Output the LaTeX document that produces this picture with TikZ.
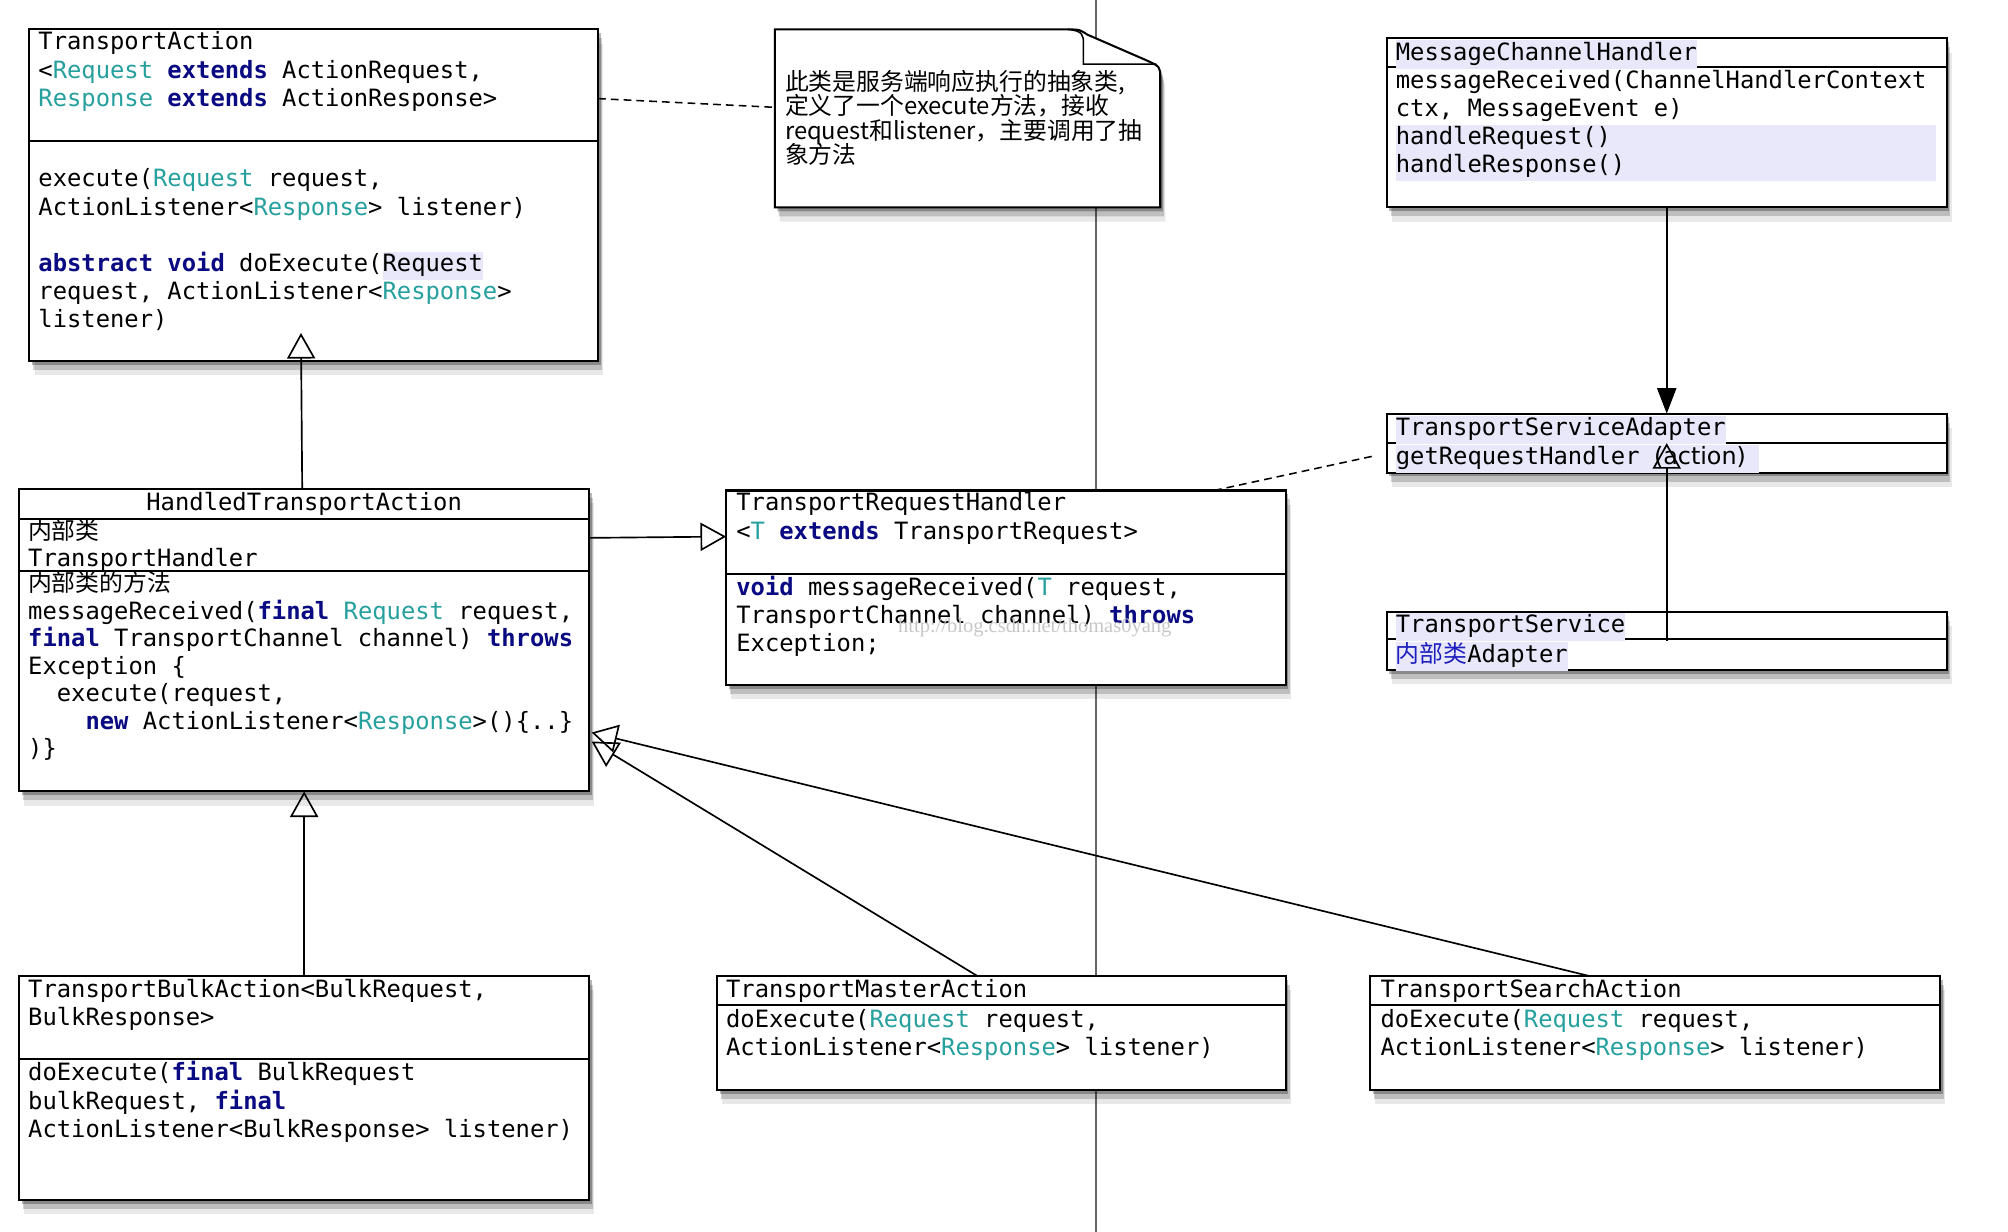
\documentclass[tikz,border=0pt]{standalone}
\usepackage{fontspec}
\usetikzlibrary{arrows.meta,shadows,fit,calc}
\newfontfamily\codefont{DejaVu Sans Mono}
\newfontfamily\cjkfont{Noto Sans CJK SC}
\newfontfamily\sansfont{DejaVu Sans}
\newfontfamily\wmfont{Liberation Serif}
\definecolor{tycol}{RGB}{38,160,158}
\definecolor{kwcol}{RGB}{10,10,130}
\definecolor{hlcol}{RGB}{232,232,250}
\definecolor{cjkblue}{RGB}{30,30,190}
\newcommand{\tyc}[1]{\textcolor{tycol}{#1}}
\newcommand{\kwd}[1]{\textcolor{kwcol}{\bfseries #1}}
\newcommand{\hlt}[1]{{\setlength{\fboxsep}{0pt}\colorbox{hlcol}{\strut #1}}}
\newcommand{\umlbox}[5]{%
  \coordinate (#1-nw) at (#2,#3);
  \coordinate (#1-se) at (#4,#5);
  \node[umlcls, fit=(#1-nw)(#1-se)] (#1) {};}
\begin{document}
\begin{tikzpicture}[x=1pt,y=-1pt,
  shd/.style={drop shadow={shadow xshift=2pt,shadow yshift=-3pt,opacity=.28,fill=black},
              drop shadow={shadow xshift=3pt,shadow yshift=-7pt,opacity=.18,fill=black},
              drop shadow={shadow xshift=4pt,shadow yshift=-11pt,opacity=.09,fill=black}},
  umlcls/.style={draw, line width=1.6pt, fill=white, inner sep=0pt, outer sep=0pt, shd},
  notebox/.style={draw, line width=1.6pt, fill=white, shd},
  sepline/.style={line width=1.6pt},
  txtcode/.style={anchor=north west, inner sep=0pt, outer sep=0pt, align=left,
                  font={\codefont\fontsize{18.6pt}{22pt}\selectfont\lineskiplimit=-100pt\lineskip=0pt}},
  txtcodeb/.style={txtcode, font={\codefont\fontsize{18.6pt}{21.5pt}\selectfont\lineskiplimit=-100pt\lineskip=0pt}},
  txtnote/.style={anchor=north west, inner sep=0pt, outer sep=0pt, align=left,
                  font={\cjkfont\fontsize{18.6pt}{19pt}\selectfont\lineskiplimit=-100pt\lineskip=0pt}},
  inharrow/.style={line width=1.3pt, -{Triangle[open,width=22pt,length=20pt]}},
  navarrow/.style={line width=1.3pt, -{Triangle[width=15pt,length=20pt]}},
  deparrow/.style={line width=1.2pt, dash pattern=on 6pt off 4pt},
  vgray/.style={line width=1.3pt, draw=black!60}
]
\useasboundingbox (0,0) rectangle (1568,962);

% background vertical line
\coordinate (vtop) at (856,0);
\coordinate (vbot) at (856,962);
\draw[vgray] (vtop) -- (vbot);

% ---------- TransportAction ----------
\umlbox{ta}{23}{23}{467}{282}
\draw[sepline] (ta.west |- 0,110) -- (ta.east |- 0,110);
\node[txtcode] (ta-head) at (30,23.6) {\strut TransportAction\\
\strut <\tyc{Request} \kwd{extends} ActionRequest,\\
\strut \tyc{Response} \kwd{extends} ActionResponse>};
\node[txtcode] (ta-ops) at (30,130.6) {\strut execute(\tyc{Request} request,\\
\strut ActionListener<\tyc{Response}> listener)\\
\strut\\
\strut \kwd{abstract} \kwd{void} doExecute(\hlt{Request}\\
\strut request, ActionListener<\tyc{Response}>\\
\strut listener)};

% ---------- Note ----------
\coordinate (note-nw) at (605,23);
\coordinate (note-se) at (906,162);
\node[fit=(note-nw)(note-se), inner sep=0pt] (note) {};
\draw[notebox] (605,23) -- (833,23) .. controls (843,23) .. (849,27) -- (895,47)
  .. controls (906,52) .. (906,61) -- (906,162) -- (605,162) -- cycle;
\draw[line width=1.2pt] (834,23) .. controls (846,24) and (846,28) .. (846,34) -- (846,50) -- (903,50);
\node[txtnote] (note-txt) at (613,55) {\strut 此类是服务端响应执行的抽象类,\\
\strut 定义了一个execute方法，接收\\
\strut request和listener，主要调用了抽\\
\strut 象方法};

% ---------- MessageChannelHandler ----------
\umlbox{mch}{1083}{30}{1520}{162}
\draw[sepline] (mch.west |- 0,52) -- (mch.east |- 0,52);
\node[txtcode] (mch-head) at (1090,31.6) {\hlt{MessageChannelHandler}};
\node[txtcode] (mch-ops) at (1090,53.6) {\strut messageReceived(ChannelHandlerContext\\
\strut ctx, MessageEvent e)\\
\hlt{\makebox[422pt][l]{handleRequest()}}\\
\hlt{\makebox[422pt][l]{handleResponse()}}};

% ---------- TransportServiceAdapter ----------
\umlbox{tsa}{1083}{323}{1520}{369}
\draw[sepline] (tsa.west |- 0,346) -- (tsa.east |- 0,346);
\node[txtcode] (tsa-head) at (1090,324.6) {\hlt{TransportServiceAdapter}};
\node[txtcode] (tsa-ops) at (1090,347.6) {\hlt{getRequestHandler {\sansfont(action)}\hspace{10pt}}};

% ---------- TransportService ----------
\umlbox{ts}{1083}{478}{1520}{523}
\draw[sepline] (ts.west |- 0,499) -- (ts.east |- 0,499);
\node[txtcode] (ts-head) at (1090,478.6) {\hlt{TransportService}};
\node[txtcode] (ts-ops) at (1090,501.6) {\hlt{{\cjkfont\color{cjkblue}内部类}Adapter}};

% ---------- HandledTransportAction ----------
\umlbox{hta}{15}{382}{460}{618}
\draw[sepline] (hta.west |- 0,405) -- (hta.east |- 0,405);
\draw[sepline] (hta.west |- 0,446) -- (hta.east |- 0,446);
\node[txtcode, anchor=north, align=center] (hta-head) at (237.5,383.6) {\strut HandledTransportAction};
\node[txtcodeb] (hta-inner) at (22,405.2) {\strut{\cjkfont 内部类}\\
\strut TransportHandler};
\node[txtcodeb] (hta-ops) at (22,446.2) {\strut{\cjkfont 内部类的方法}\\
\strut messageReceived(\kwd{final} \tyc{Request} request,\\
\strut \kwd{final} TransportChannel channel) \kwd{throws}\\
\strut Exception \{\\
\strut\hspace*{22.4pt}execute(request,\\
\strut\hspace*{44.8pt}\kwd{new} ActionListener<\tyc{Response}>()\{..\}\\
\strut )\}};

% ---------- TransportRequestHandler ----------
\umlbox{trh}{567}{383}{1004}{535}
\draw[sepline] (trh.west |- 0,448) -- (trh.east |- 0,448);
\node[txtcode] (trh-head) at (575,383.6) {\strut TransportRequestHandler\\
\strut <\tyc{T} \kwd{extends} TransportRequest>};
\node[txtcode] (trh-ops) at (575,449.6) {\strut \kwd{void} messageReceived(\tyc{T} request,\\
\strut TransportChannel channel) \kwd{throws}\\
\strut Exception;};
\node[inner sep=0pt, text=black!22, font={\wmfont\fontsize{16pt}{16pt}\selectfont}] (wm) at (808,490) {http://blog.csdn.net/thomas0yang};

% ---------- TransportBulkAction ----------
\umlbox{tba}{15}{762}{460}{937}
\draw[sepline] (tba.west |- 0,827) -- (tba.east |- 0,827);
\node[txtcode] (tba-head) at (22,763.6) {\strut TransportBulkAction<BulkRequest,\\
\strut BulkResponse>};
\node[txtcode] (tba-ops) at (22,828.6) {\strut doExecute(\kwd{final} BulkRequest\\
\strut bulkRequest, \kwd{final}\\
\strut ActionListener<BulkResponse> listener)};

% ---------- TransportMasterAction ----------
\umlbox{tma}{560}{762}{1004}{851}
\draw[sepline] (tma.west |- 0,785) -- (tma.east |- 0,785);
\node[txtcode] (tma-head) at (567,763.6) {\strut TransportMasterAction};
\node[txtcode] (tma-ops) at (567,786.6) {\strut doExecute(\tyc{Request} request,\\
\strut ActionListener<\tyc{Response}> listener)};

% ---------- TransportSearchAction ----------
\umlbox{tsea}{1070}{762}{1515}{851}
\draw[sepline] (tsea.west |- 0,785) -- (tsea.east |- 0,785);
\node[txtcode] (tsea-head) at (1078,763.6) {\strut TransportSearchAction};
\node[txtcode] (tsea-ops) at (1078,786.6) {\strut doExecute(\tyc{Request} request,\\
\strut ActionListener<\tyc{Response}> listener)};

% ---------- connectors ----------
\draw[deparrow] ($(ta.north east)+(0,54)$) -- ($(note.north west)+(0,61)$);
\draw[navarrow] (mch.south) -- (tsa.north);
\draw[inharrow] (ts.center) -- (tsa.center);
\coordinate (tsa-dep) at ($(tsa.west)+(-10,10)$);
\draw[deparrow] ($(trh.north east)+(-56,0)$) -- (tsa-dep);
\draw[inharrow] ($(hta.north)+(-1.5,0)$) -- ($(hta.north |- ta.south)+(-2.5,-22)$);
\draw[inharrow] ($(hta.north east)+(0,38)$) -- ($(trh.north west)+(0,36)$);
\draw[inharrow] (tba.north) -- (hta.south);
\draw[inharrow] ($(tma.north)+(-19,0)$) -- ($(hta.north east)+(2,197)$);
\draw[inharrow] ($(tsea.north)+(-52,0)$) -- ($(hta.north east)+(2,190)$);
\end{tikzpicture}
\end{document}
